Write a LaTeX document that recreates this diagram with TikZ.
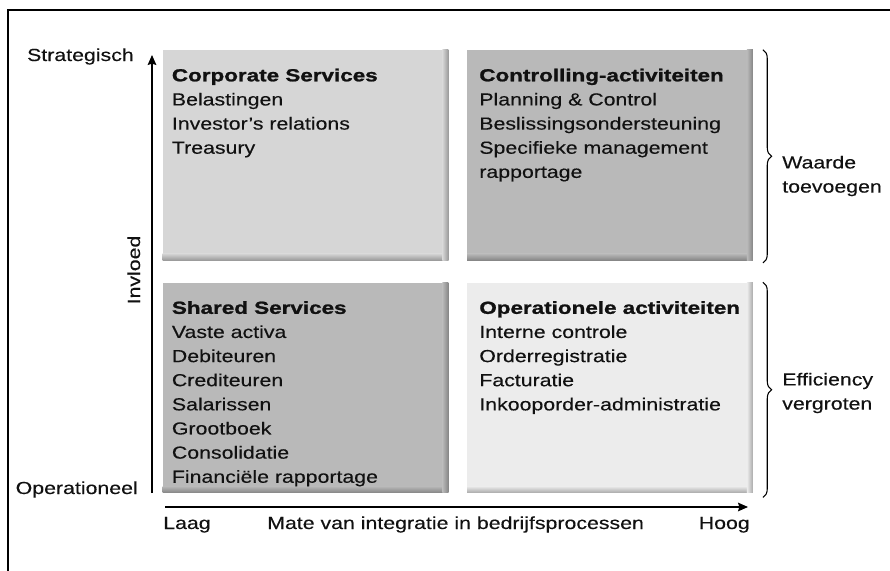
\documentclass[tikz,border=0pt]{standalone}
\usepackage{fontspec}
\setmainfont{Liberation Sans}[FakeStretch=1.22, FakeBold=0.25,
  BoldFeatures={FakeStretch=1.285, FakeBold=1.2}]
\usetikzlibrary{positioning,arrows.meta,decorations.pathreplacing}

\definecolor{mxlight}{HTML}{D6D6D6}
\definecolor{mxmid}{HTML}{B9B9B9}
\definecolor{mxpale}{HTML}{ECECEC}
\definecolor{mxink}{HTML}{111111}

\begin{document}
\begin{tikzpicture}[
  x=0.75pt, y=-0.75pt,
  font=\fontsize{13.1}{18.1}\selectfont,
  quad/.style={rectangle, inner sep=0pt, minimum width=214pt, minimum height=157.5pt},
  body/.style={inner sep=0pt, align=left, anchor=north west, text=mxink},
  axis/.style={draw=black, line width=0.9pt, -{Stealth[length=7.5pt, width=6.5pt, inset=1pt]}},
  brace/.style={draw=black, line width=0.8pt, decorate, decoration={brace, amplitude=6.5pt}},
  frame/.style={draw=black, line width=1.3pt},
  lbl/.style={inner sep=0pt, text=mxink},
]
  \useasboundingbox (0,0) rectangle (890,571);
  \draw[frame] (8,571) -- (8,10) -- (890,10);

  % the four quadrants
  \node[quad, fill=mxlight] (cs) at (305.5,155) {};
  \node[quad, fill=mxmid]   (ca) at (610,155)   {};
  \node[quad, fill=mxmid]   (ss) at (305.5,387.5) {};
  \node[quad, fill=mxpale]  (oa) at (610,387.5) {};

  % darker rim along bottom and right edges
  \foreach \b/\c in {cs/mxlight, ca/mxmid, ss/mxmid, oa/mxpale} {
    \shade[top color=\c, bottom color=\c!72!black] ([yshift=5pt]\b.south west) rectangle (\b.south east);
    \shade[left color=\c, right color=\c!72!black] ([xshift=-4.5pt]\b.north east) rectangle (\b.south east);
  }

  % quadrant contents
  \node[body] (cstext) at ([xshift=6.8pt, yshift=-14pt]cs.north west)
    {\textbf{Corporate Services}\\Belastingen\\Investor{\char39}s relations\\Treasury};
  \node[body] (catext) at ([xshift=9pt, yshift=-14pt]ca.north west)
    {\textbf{Controlling-activiteiten}\\Planning \& Control\\Beslissingsondersteuning\\Specifieke management\\rapportage};
  \node[body] (sstext) at ([xshift=6.8pt, yshift=-14pt]ss.north west)
    {\textbf{Shared Services}\\Vaste activa\\Debiteuren\\Crediteuren\\Salarissen\\Grootboek\\Consolidatie\\Financiële rapportage};
  \node[body] (oatext) at ([xshift=9pt, yshift=-14pt]oa.north west)
    {\textbf{Operationele activiteiten}\\Interne controle\\Orderregistratie\\Facturatie\\Inkooporder-administratie};

  % axes
  \coordinate (yfoot) at (152,493);
  \coordinate (yhead) at (152,55);
  \coordinate (xfoot) at (165,507);
  \coordinate (xhead) at (748,507);
  \draw[axis] (yfoot) -- (yhead);
  \draw[axis] (xfoot) -- (xhead);

  \node[lbl, anchor=base east] (strat) at (134,61) {Strategisch};
  \node[lbl, anchor=base east] (oper) at (138,494) {Operationeel};
  \node[lbl, rotate=90, anchor=base] (invl) at (140,270) {Invloed};
  \node[lbl, anchor=base west] (laag) at (163,529) {Laag};
  \node[lbl, anchor=base west] (mate) at (267,529) {Mate van integratie in bedrijfsprocessen};
  \node[lbl, anchor=base east] (hoog) at (750,529) {Hoog};

  % braces on the right
  \draw[brace] ([xshift=7.5pt]ca.north east) -- ([xshift=7.5pt, yshift=-2pt]ca.south east);
  \draw[brace] ([xshift=7.5pt]oa.north east) -- ([xshift=7.5pt, yshift=-3.5pt]oa.south east);
  \node[lbl, anchor=west, align=left] (waarde) at (782,176) {Waarde\\toevoegen};
  \node[lbl, anchor=west, align=left] (effic) at (782,393) {Efficiency\\vergroten};
\end{tikzpicture}
\end{document}
